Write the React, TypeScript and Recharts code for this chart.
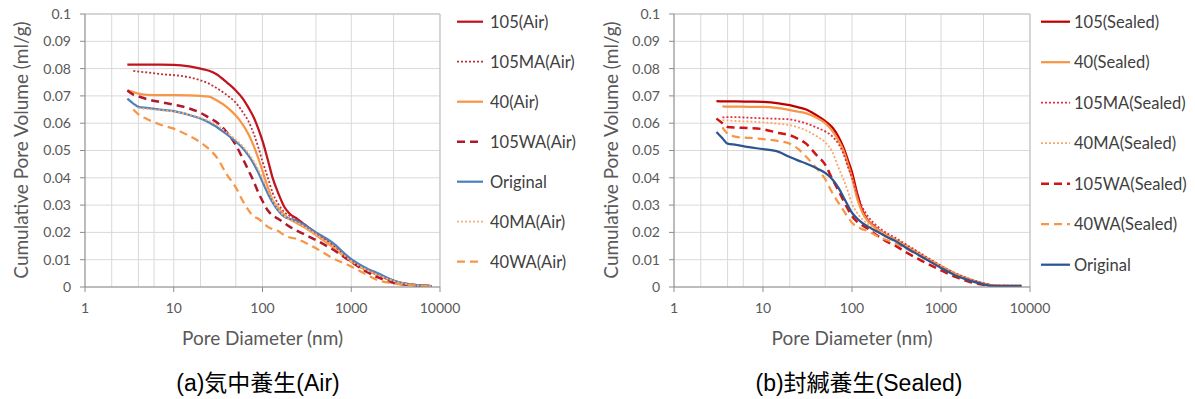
import React from 'react';
import { LineChart, Line, XAxis, YAxis, CartesianGrid, ReferenceLine } from 'recharts';

// Pore diameters (nm) shared by every series
const diameters = [3, 3.5, 4, 5, 7, 10, 15, 20, 25, 30, 40, 50, 60, 70, 80, 90, 100, 115, 130, 150, 175, 200, 250, 300, 400, 600, 1000, 1500, 2000, 3000, 4000, 6000, 8000];

// (a) Air curing
const air105 = [0.0815, 0.0815, 0.0815, 0.0815, 0.0815, 0.0814, 0.0808, 0.0800, 0.0792, 0.0780, 0.0748, 0.0720, 0.0690, 0.0655, 0.0620, 0.0578, 0.0535, 0.0465, 0.0400, 0.0345, 0.0295, 0.0270, 0.0248, 0.0228, 0.0198, 0.0155, 0.0095, 0.0062, 0.0045, 0.0022, 0.0012, 0.0006, 0.0003];
const air105MA = [null, 0.0792, 0.0789, 0.0786, 0.0780, 0.0776, 0.0768, 0.0757, 0.0745, 0.0730, 0.0702, 0.0675, 0.0640, 0.0605, 0.0560, 0.0510, 0.0460, 0.0400, 0.0345, 0.0305, 0.0275, 0.0262, 0.0243, 0.0225, 0.0195, 0.0152, 0.0092, 0.0060, 0.0043, 0.0020, 0.0011, 0.0005, 0.0003];
const air40 = [0.0720, 0.0714, 0.0708, 0.0704, 0.0703, 0.0703, 0.0702, 0.0700, 0.0697, 0.0685, 0.0658, 0.0628, 0.0595, 0.0558, 0.0515, 0.0470, 0.0425, 0.0365, 0.0318, 0.0290, 0.0265, 0.0250, 0.0232, 0.0218, 0.0190, 0.0150, 0.0092, 0.0062, 0.0046, 0.0024, 0.0013, 0.0006, 0.0003];
const air105WA = [0.0720, 0.0705, 0.0698, 0.0688, 0.0678, 0.0668, 0.0654, 0.0638, 0.0620, 0.0605, 0.0565, 0.0520, 0.0470, 0.0425, 0.0385, 0.0345, 0.0315, 0.0280, 0.0262, 0.0250, 0.0235, 0.0222, 0.0205, 0.0192, 0.0172, 0.0140, 0.0092, 0.0055, 0.0035, 0.0015, 0.0009, 0.0005, 0.0003];
const airOriginal = [0.0690, 0.0672, 0.0660, 0.0656, 0.0650, 0.0644, 0.0630, 0.0617, 0.0603, 0.0588, 0.0558, 0.0533, 0.0508, 0.0480, 0.0450, 0.0418, 0.0385, 0.0342, 0.0310, 0.0280, 0.0258, 0.0250, 0.0240, 0.0225, 0.0200, 0.0165, 0.0102, 0.0068, 0.0050, 0.0024, 0.0012, 0.0006, 0.0003];
const air40MA = [null, null, 0.0655, 0.0652, 0.0648, 0.0643, 0.0632, 0.0620, 0.0608, 0.0595, 0.0565, 0.0540, 0.0515, 0.0488, 0.0460, 0.0430, 0.0398, 0.0355, 0.0318, 0.0285, 0.0260, 0.0248, 0.0235, 0.0220, 0.0193, 0.0155, 0.0095, 0.0062, 0.0044, 0.0022, 0.0012, 0.0005, 0.0003];
const air40WA = [null, 0.0650, 0.0632, 0.0615, 0.0595, 0.0580, 0.0553, 0.0530, 0.0505, 0.0478, 0.0410, 0.0365, 0.0315, 0.0280, 0.0258, 0.0250, 0.0238, 0.0220, 0.0212, 0.0205, 0.0190, 0.0182, 0.0175, 0.0163, 0.0142, 0.0108, 0.0075, 0.0045, 0.0025, 0.0013, 0.0008, 0.0004, 0.0002];

// (b) Sealed curing
const sealed105 = [0.0681, 0.0680, 0.0680, 0.0680, 0.0679, 0.0678, 0.0673, 0.0666, 0.0658, 0.0651, 0.0629, 0.0608, 0.0585, 0.0552, 0.0512, 0.0465, 0.0420, 0.0340, 0.0282, 0.0245, 0.0224, 0.0208, 0.0188, 0.0174, 0.0150, 0.0113, 0.0073, 0.0043, 0.0028, 0.0012, 0.0005, 0.0004, 0.0004];
const sealed40 = [null, 0.0662, 0.0661, 0.0661, 0.0660, 0.0660, 0.0655, 0.0648, 0.0642, 0.0637, 0.0620, 0.0600, 0.0572, 0.0538, 0.0500, 0.0450, 0.0400, 0.0322, 0.0275, 0.0242, 0.0222, 0.0207, 0.0188, 0.0175, 0.0152, 0.0117, 0.0077, 0.0047, 0.0031, 0.0013, 0.0005, 0.0004, 0.0004];
const sealed105MA = [null, 0.0621, 0.0622, 0.0622, 0.0620, 0.0618, 0.0616, 0.0614, 0.0607, 0.0600, 0.0584, 0.0570, 0.0552, 0.0525, 0.0489, 0.0440, 0.0400, 0.0340, 0.0295, 0.0260, 0.0235, 0.0218, 0.0196, 0.0182, 0.0157, 0.0122, 0.0078, 0.0048, 0.0032, 0.0014, 0.0006, 0.0005, 0.0005];
const sealed40MA = [null, 0.0611, 0.0610, 0.0608, 0.0606, 0.0603, 0.0598, 0.0593, 0.0584, 0.0575, 0.0552, 0.0530, 0.0495, 0.0440, 0.0395, 0.0350, 0.0305, 0.0270, 0.0248, 0.0232, 0.0218, 0.0206, 0.0188, 0.0175, 0.0151, 0.0119, 0.0077, 0.0046, 0.0030, 0.0013, 0.0005, 0.0004, 0.0004];
const sealed105WA = [0.0617, 0.0600, 0.0586, 0.0584, 0.0582, 0.0578, 0.0564, 0.0556, 0.0542, 0.0527, 0.0483, 0.0448, 0.0396, 0.0355, 0.0317, 0.0285, 0.0260, 0.0238, 0.0226, 0.0214, 0.0198, 0.0185, 0.0165, 0.0153, 0.0128, 0.0097, 0.0061, 0.0035, 0.0021, 0.0008, 0.0004, 0.0003, 0.0003];
const sealed40WA = [null, 0.0585, 0.0562, 0.0550, 0.0546, 0.0542, 0.0534, 0.0525, 0.0505, 0.0480, 0.0435, 0.0395, 0.0345, 0.0310, 0.0281, 0.0255, 0.0235, 0.0220, 0.0212, 0.0205, 0.0194, 0.0184, 0.0171, 0.0161, 0.0142, 0.0111, 0.0074, 0.0044, 0.0029, 0.0012, 0.0005, 0.0004, 0.0004];
const sealedOriginal = [0.0568, 0.0545, 0.0525, 0.0521, 0.0512, 0.0505, 0.0495, 0.0476, 0.0463, 0.0453, 0.0435, 0.0418, 0.0395, 0.0365, 0.0330, 0.0298, 0.0272, 0.0250, 0.0235, 0.0222, 0.0210, 0.0200, 0.0182, 0.0170, 0.0145, 0.0112, 0.0070, 0.0040, 0.0026, 0.0010, 0.0003, 0.0003, 0.0003];

// Axis ticks
const xMajorTicks = [1, 10, 100, 1000, 10000];
const xMinorTicks = [1, 2, 3, 4, 5, 6, 7, 8, 9, 10, 20, 30, 40, 50, 60, 70, 80, 90, 100, 200, 300, 400, 500, 600, 700, 800, 900, 1000, 2000, 3000, 4000, 5000, 6000, 7000, 8000, 9000, 10000];
const yTicks = [0, 0.01, 0.02, 0.03, 0.04, 0.05, 0.06, 0.07, 0.08, 0.09, 0.1];

type S = { key: string; name: string; values: (number | null)[]; color: string; dash?: string; width: number };

const SOLID = 2.25;
const DASH = '8 5';
const DOT = '2 2';

const airSeries: S[] = [
  { key: 'a105', name: '105(Air)', values: air105, color: '#C0141E', width: SOLID },
  { key: 'a105MA', name: '105MA(Air)', values: air105MA, color: '#C0303A', dash: DOT, width: 1.8 },
  { key: 'a40', name: '40(Air)', values: air40, color: '#F79646', width: SOLID },
  { key: 'a105WA', name: '105WA(Air)', values: air105WA, color: '#B0182C', dash: DASH, width: 2.5 },
  { key: 'aOrig', name: 'Original', values: airOriginal, color: '#4F81BD', width: SOLID },
  { key: 'a40MA', name: '40MA(Air)', values: air40MA, color: '#F8B07A', dash: DOT, width: 1.8 },
  { key: 'a40WA', name: '40WA(Air)', values: air40WA, color: '#F79646', dash: DASH, width: 2.25 },
];

const sealedSeries: S[] = [
  { key: 's105', name: '105(Sealed)', values: sealed105, color: '#C00000', width: SOLID },
  { key: 's40', name: '40(Sealed)', values: sealed40, color: '#F79646', width: SOLID },
  { key: 's105MA', name: '105MA(Sealed)', values: sealed105MA, color: '#E0303A', dash: DOT, width: 1.8 },
  { key: 's40MA', name: '40MA(Sealed)', values: sealed40MA, color: '#F9A868', dash: DOT, width: 1.8 },
  { key: 's105WA', name: '105WA(Sealed)', values: sealed105WA, color: '#D01414', dash: DASH, width: 2.5 },
  { key: 's40WA', name: '40WA(Sealed)', values: sealed40WA, color: '#F79646', dash: DASH, width: 2.25 },
  { key: 'sOrig', name: 'Original', values: sealedOriginal, color: '#2C5591', width: SOLID },
];

const buildRows = (series: S[]) =>
  diameters.map((d, i) => {
    const row: Record<string, number | null> = { d };
    series.forEach((s) => (row[s.key] = s.values[i]));
    return row;
  });

const FONT = 'Lato, "Noto Sans", sans-serif';
const GREY_TEXT = '#595959';

const yFmt = (v: number) => (v === 0 ? '0' : String(+v.toFixed(2)));

function Panel({ series, left, width }: { series: S[]; left: number; width: number }) {
  const rows = buildRows(series);
  return (
    <div style={{ position: 'absolute', left, top: 0 }}>
      <LineChart width={width} height={320} data={rows} margin={{ top: 14, right: 25, bottom: 0, left: 0 }}>
        <XAxis xAxisId="minor" dataKey="d" type="number" scale="log" domain={[1, 10000]} ticks={xMinorTicks} hide allowDataOverflow />
        <CartesianGrid xAxisId="minor" stroke="#D9D9D9" strokeWidth={1} />
        <XAxis
          dataKey="d"
          type="number"
          scale="log"
          domain={[1, 10000]}
          ticks={xMajorTicks}
          allowDataOverflow
          height={33}
          tickSize={5}
          tickMargin={11}
          stroke="#8C8C8C"
          tick={{ fill: GREY_TEXT, fontSize: 14, fontFamily: FONT }}
        />
        <YAxis
          type="number"
          domain={[0, 0.1]}
          ticks={yTicks}
          tickFormatter={yFmt}
          width={85}
          tickSize={5}
          tickMargin={9}
          stroke="#8C8C8C"
          tick={{ fill: GREY_TEXT, fontSize: 14, fontFamily: FONT }}
          allowDataOverflow
        />
        <ReferenceLine y={0.1} stroke="#BFBFBF" />
        <ReferenceLine x={10000} stroke="#BFBFBF" />
        {series.map((s) => (
          <Line
            key={s.key}
            dataKey={s.key}
            name={s.name}
            type="monotone"
            stroke={s.color}
            strokeWidth={s.width}
            strokeDasharray={s.dash}
            dot={false}
            activeDot={false}
            isAnimationActive={false}
          />
        ))}
      </LineChart>
    </div>
  );
}

function LegendBox({ series, left, top, step, lineLen, textGap }: { series: S[]; left: number; top: number; step: number; lineLen: number; textGap: number }) {
  return (
    <svg style={{ position: 'absolute', left, top: 0 }} width={160} height={300}>
      {series.map((s, i) => {
        const cy = top + i * step;
        return (
          <g key={s.key}>
            <line x1={0} x2={lineLen} y1={cy} y2={cy} stroke={s.color} strokeWidth={s.width} strokeDasharray={s.dash} />
            <text x={lineLen + textGap} y={cy} dominantBaseline="central" fontFamily={FONT} fontSize={16.5} fill="#404040">
              {s.name}
            </text>
          </g>
        );
      })}
    </svg>
  );
}

const titleStyle: React.CSSProperties = { position: 'absolute', fontFamily: FONT, fontSize: 19, color: GREY_TEXT, whiteSpace: 'nowrap', lineHeight: 1 };
const captionStyle: React.CSSProperties = { position: 'absolute', fontFamily: '"Liberation Sans", "Noto Sans CJK JP", sans-serif', fontSize: 23, color: '#000', whiteSpace: 'nowrap', lineHeight: 1 };

export default function App() {
  return (
    <div style={{ position: 'absolute', left: 0, top: 0, width: 1195, height: 399, background: '#fff', overflow: 'hidden' }}>
      <Panel series={airSeries} left={0} width={465} />
      <Panel series={sealedSeries} left={589} width={466} />

      <LegendBox series={airSeries} left={457} top={21.7} step={40} lineLen={26} textGap={7} />
      <LegendBox series={sealedSeries} left={1041} top={21.7} step={40.5} lineLen={29} textGap={4} />

      {/* Y axis titles */}
      <div style={{ ...titleStyle, left: 20, top: 150, transform: 'translate(-50%, -50%) rotate(-90deg)' }}>Cumulative Pore Volume (ml/g)</div>
      <div style={{ ...titleStyle, left: 610, top: 150, transform: 'translate(-50%, -50%) rotate(-90deg)' }}>Cumulative Pore Volume (ml/g)</div>

      {/* X axis titles */}
      <div style={{ ...titleStyle, left: 262.5, top: 337, transform: 'translate(-50%, -50%)' }}>Pore Diameter (nm)</div>
      <div style={{ ...titleStyle, left: 852, top: 337, transform: 'translate(-50%, -50%)' }}>Pore Diameter (nm)</div>

      {/* Captions */}
      <div style={{ ...captionStyle, left: 258, top: 383, transform: 'translate(-50%, -50%)' }}>(a)気中養生(Air)</div>
      <div style={{ ...captionStyle, left: 859, top: 383, transform: 'translate(-50%, -50%)' }}>(b)封緘養生(Sealed)</div>
    </div>
  );
}
